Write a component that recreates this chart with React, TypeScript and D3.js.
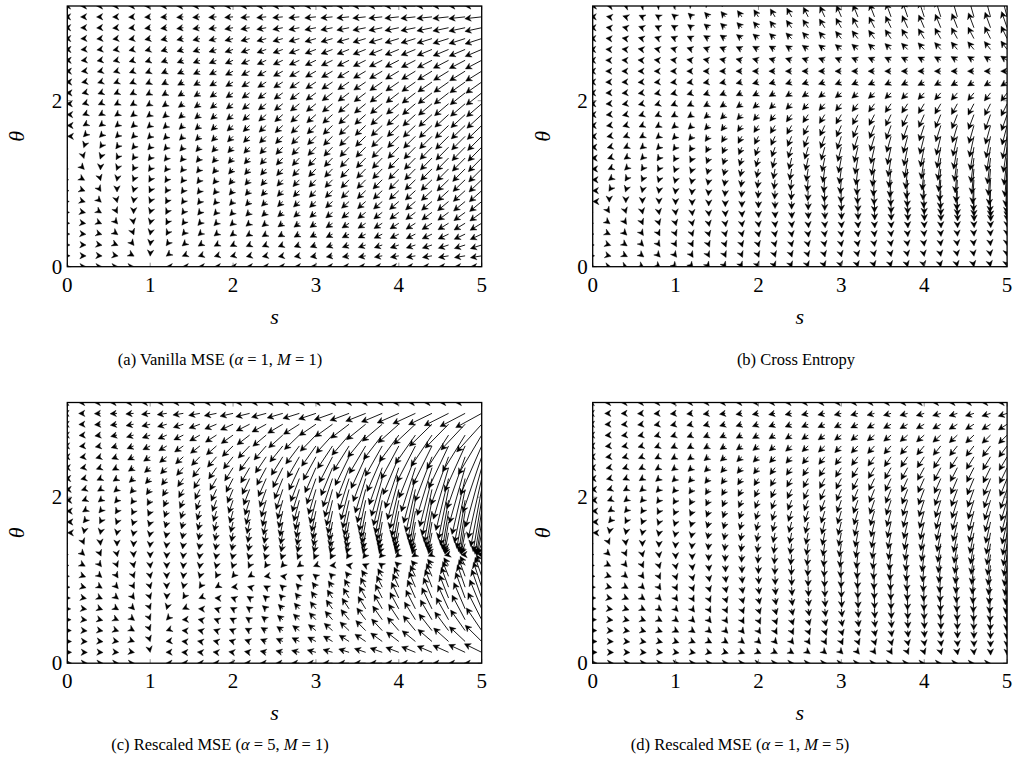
import React from "react";
import * as d3 from "d3";

// grid of the quiver (s on x, theta on y)
const S_GRID = [0, 0.2, 0.4, 0.6, 0.8, 1.0, 1.2, 1.4, 1.6, 1.8, 2.0, 2.2, 2.4, 2.6, 2.8, 3.0, 3.2, 3.4, 3.6, 3.8, 4.0, 4.2, 4.4, 4.6, 4.8, 5.0];
const THETA_GRID = [0, 0.1309, 0.2618, 0.3927, 0.5236, 0.6545, 0.7854, 0.9163, 1.0472, 1.1781, 1.309, 1.4399, 1.5708, 1.7017, 1.8326, 1.9635, 2.0944, 2.2253, 2.3562, 2.4871, 2.618, 2.7489, 2.8798, 3.0107, 3.1416];
const X_TICKS = [0, 1, 2, 3, 4, 5];
const Y_TICKS = [0, 2];

// panels: loss type and its parameters
const PANEL_LETTERS = ["a", "b", "c", "d"];
const PANEL_LOSS = ["mse", "ce", "mse", "mse"];
const PANEL_ALPHA = [1, 0, 5, 1];
const PANEL_M = [1, 0, 1, 5];
const PANEL_NAMES = ["Vanilla MSE", "Cross Entropy", "Rescaled MSE", "Rescaled MSE"];
const ARROW_SCALE = [0.017, 0.055, 0.0053, 0.0054];

const PANEL_LEFT = [67.3, 592.7, 67.3, 592.7];
const PANEL_TOP = [6, 6, 402.5, 402.5];
const PW = 414.4;
const PH = 260.7;
const CAPTION_X = [220, 796, 220, 740];
const CAPTION_Y = [365, 365, 750, 750];
const FONT = "'Liberation Serif', 'Times New Roman', serif";

function negGrad(loss: string, alpha: number, M: number, s: number, t: number): [number, number] {
  const c = Math.cos(t), sn = Math.sin(t);
  if (loss === "ce") {
    const z = s * (sn - c);
    const p = 1 / (1 + Math.exp(-z));
    const Ls = p * (sn - c);
    const Lt = p * s * (c + sn);
    return [-Ls, -Lt];
  }
  const r = s * c - M;
  const Ls = 2 * alpha * r * c + 2 * s * sn * sn;
  const Lt = -2 * alpha * r * s * sn + 2 * s * s * sn * c;
  return [-Ls, -Lt];
}

function Panel({ i }: { i: number }) {
  const left = PANEL_LEFT[i], top = PANEL_TOP[i];
  const x = d3.scaleLinear().domain([0, 5]).range([left, left + PW]);
  const y = d3.scaleLinear().domain([0, Math.PI]).range([top + PH, top]);
  const k = ARROW_SCALE[i];
  const HL = 6.2, HW = 3.2, INS = 1.8;
  const arrows: JSX.Element[] = [];
  let n = 0;
  for (const s of S_GRID) {
    for (const t of THETA_GRID) {
      const [u, v] = negGrad(PANEL_LOSS[i], PANEL_ALPHA[i], PANEL_M[i], s, t);
      const x0 = x(s), y0 = y(t);
      const x1 = x(s + k * u), y1 = y(t + k * v);
      const dx = x1 - x0, dy = y1 - y0;
      const len = Math.hypot(dx, dy);
      if (len < 1e-9) continue;
      const ux = dx / len, uy = dy / len;
      const px = -uy, py = ux;
      const bx = x1 - HL * ux, by = y1 - HL * uy;
      const nx = x1 - (HL - INS) * ux, ny = y1 - (HL - INS) * uy;
      const head = `M${x1},${y1}L${bx + HW * px},${by + HW * py}L${nx},${ny}L${bx - HW * px},${by - HW * py}Z`;
      const sx = x1 - Math.min(len, HL - INS) * ux, sy = y1 - Math.min(len, HL - INS) * uy;
      arrows.push(
        <g key={n++}>
          <line x1={x0} y1={y0} x2={sx} y2={sy} stroke="#000" strokeWidth={0.9} />
          <path d={head} fill="#000" stroke="#000" strokeWidth={0.4} strokeLinejoin="miter" />
        </g>
      );
    }
  }
  const clipId = `clip-${PANEL_LETTERS[i]}`;
  const tickLen = 4;
  const cx = left + PW / 2;
  const caption = i === 1 ? null : (
    <>
      {" ("}
      <tspan fontStyle="italic">α</tspan>
      {` = ${PANEL_ALPHA[i]}, `}
      <tspan fontStyle="italic">M</tspan>
      {` = ${PANEL_M[i]})`}
    </>
  );
  return (
    <g>
      <defs>
        <clipPath id={clipId}>
          <rect x={left} y={top} width={PW} height={PH} />
        </clipPath>
      </defs>
      <g clipPath={`url(#${clipId})`}>{arrows}</g>
      {X_TICKS.map((tv) => (
        <g key={"xt" + tv}>
          <line x1={x(tv)} x2={x(tv)} y1={top + PH} y2={top + PH - tickLen} stroke="#777" strokeWidth={0.8} />
          <line x1={x(tv)} x2={x(tv)} y1={top} y2={top + tickLen} stroke="#777" strokeWidth={0.8} />
          <text x={x(tv)} y={top + PH + 25} textAnchor="middle" fontSize={21} fontFamily={FONT}>{tv}</text>
        </g>
      ))}
      {Y_TICKS.map((tv) => (
        <g key={"yt" + tv}>
          <line x1={left} x2={left + tickLen} y1={y(tv)} y2={y(tv)} stroke="#777" strokeWidth={0.8} />
          <line x1={left + PW} x2={left + PW - tickLen} y1={y(tv)} y2={y(tv)} stroke="#777" strokeWidth={0.8} />
          <text x={left - 5} y={y(tv) + 7} textAnchor="end" fontSize={21} fontFamily={FONT}>{tv}</text>
        </g>
      ))}
      <rect x={left} y={top} width={PW} height={PH} fill="none" stroke="#000" strokeWidth={1.3} />
      <text x={cx} y={top + PH + 57} textAnchor="middle" fontSize={22} fontStyle="italic" fontFamily={FONT}>s</text>
      <text transform={`translate(${left - 43},${top + PH / 2}) rotate(-90)`} textAnchor="middle" fontSize={22} fontStyle="italic" fontFamily={FONT}>θ</text>
      <text x={CAPTION_X[i]} y={CAPTION_Y[i]} textAnchor="middle" fontSize={16.5} fontFamily={FONT}>
        {`(${PANEL_LETTERS[i]}) ${PANEL_NAMES[i]}`}
        {caption}
      </text>
    </g>
  );
}

export default function App() {
  return (
    <svg width={1016} height={774} style={{ position: "absolute", left: 0, top: 0, background: "#fff" }}>
      <rect width={1016} height={774} fill="#fff" />
      {[0, 1, 2, 3].map((i) => (
        <Panel key={i} i={i} />
      ))}
    </svg>
  );
}
